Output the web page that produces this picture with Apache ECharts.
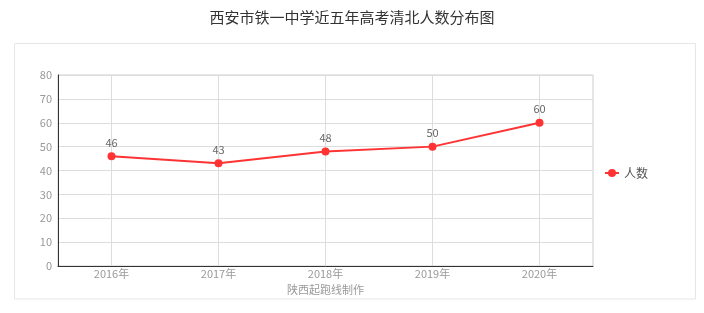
<!DOCTYPE html>
<html><head><meta charset="utf-8">
<script src="https://cdn.jsdelivr.net/npm/echarts@6/dist/echarts.min.js"></script>
<style>html,body{margin:0;padding:0;background:#fff}#c{width:704px;height:313px}</style>
</head><body><div id="c"></div>
<script>
const categories = ['2016年','2017年','2018年','2019年','2020年'];
const values = [46, 43, 48, 50, 60];
const seriesName = '人数';
const titleText = '西安市铁一中学近五年高考清北人数分布图';
const footText = '陕西起跑线制作';
const font = '"Noto Sans CJK SC", "Microsoft YaHei", sans-serif';
const chart = echarts.init(document.getElementById('c'));
chart.setOption({
  textStyle: {fontFamily: font},
  title: {text: titleText, left: 'center', top: 5, textStyle: {fontSize: 15, fontWeight: 'normal', color: '#333', fontFamily: font}},
  graphic: [{type: 'rect', shape: {x: 14.5, y: 43.5, width: 681, height: 255.5}, style: {fill: 'none', stroke: '#e6e6e6', lineWidth: 1}, z: -1}],
  legend: {right: 51, top: 162, itemWidth: 14, itemHeight: 10, itemGap: 4, textStyle: {fontSize: 12, color: '#555', fontFamily: font}, data: [seriesName]},
  grid: {left: 58, right: 111, top: 75, bottom: 47, show: true, borderColor: '#ccc', borderWidth: 1},
  xAxis: {type: 'category', data: categories, boundaryGap: true,
    name: footText, nameLocation: 'middle', nameGap: 17, nameTextStyle: {color: '#999', fontSize: 11, fontFamily: font},
    axisLine: {lineStyle: {color: '#333'}}, axisTick: {show: false},
    axisLabel: {color: '#999', fontSize: 11, margin: 2},
    splitLine: {show: true, alignWithLabel: true, lineStyle: {color: '#ddd'}}},
  yAxis: {type: 'value', min: 0, max: 80, interval: 10,
    axisLine: {show: true, lineStyle: {color: '#333'}}, axisTick: {show: false},
    axisLabel: {color: '#999', fontSize: 11, margin: 6},
    splitLine: {lineStyle: {color: '#ddd'}}},
  series: [{name: seriesName, type: 'line', data: values, symbol: 'circle', symbolSize: 8,
    itemStyle: {color: '#ff3333'}, lineStyle: {color: '#ff3333', width: 2},
    label: {show: true, position: 'top', color: '#666', fontSize: 11, distance: 4}}]
});
</script></body></html>
